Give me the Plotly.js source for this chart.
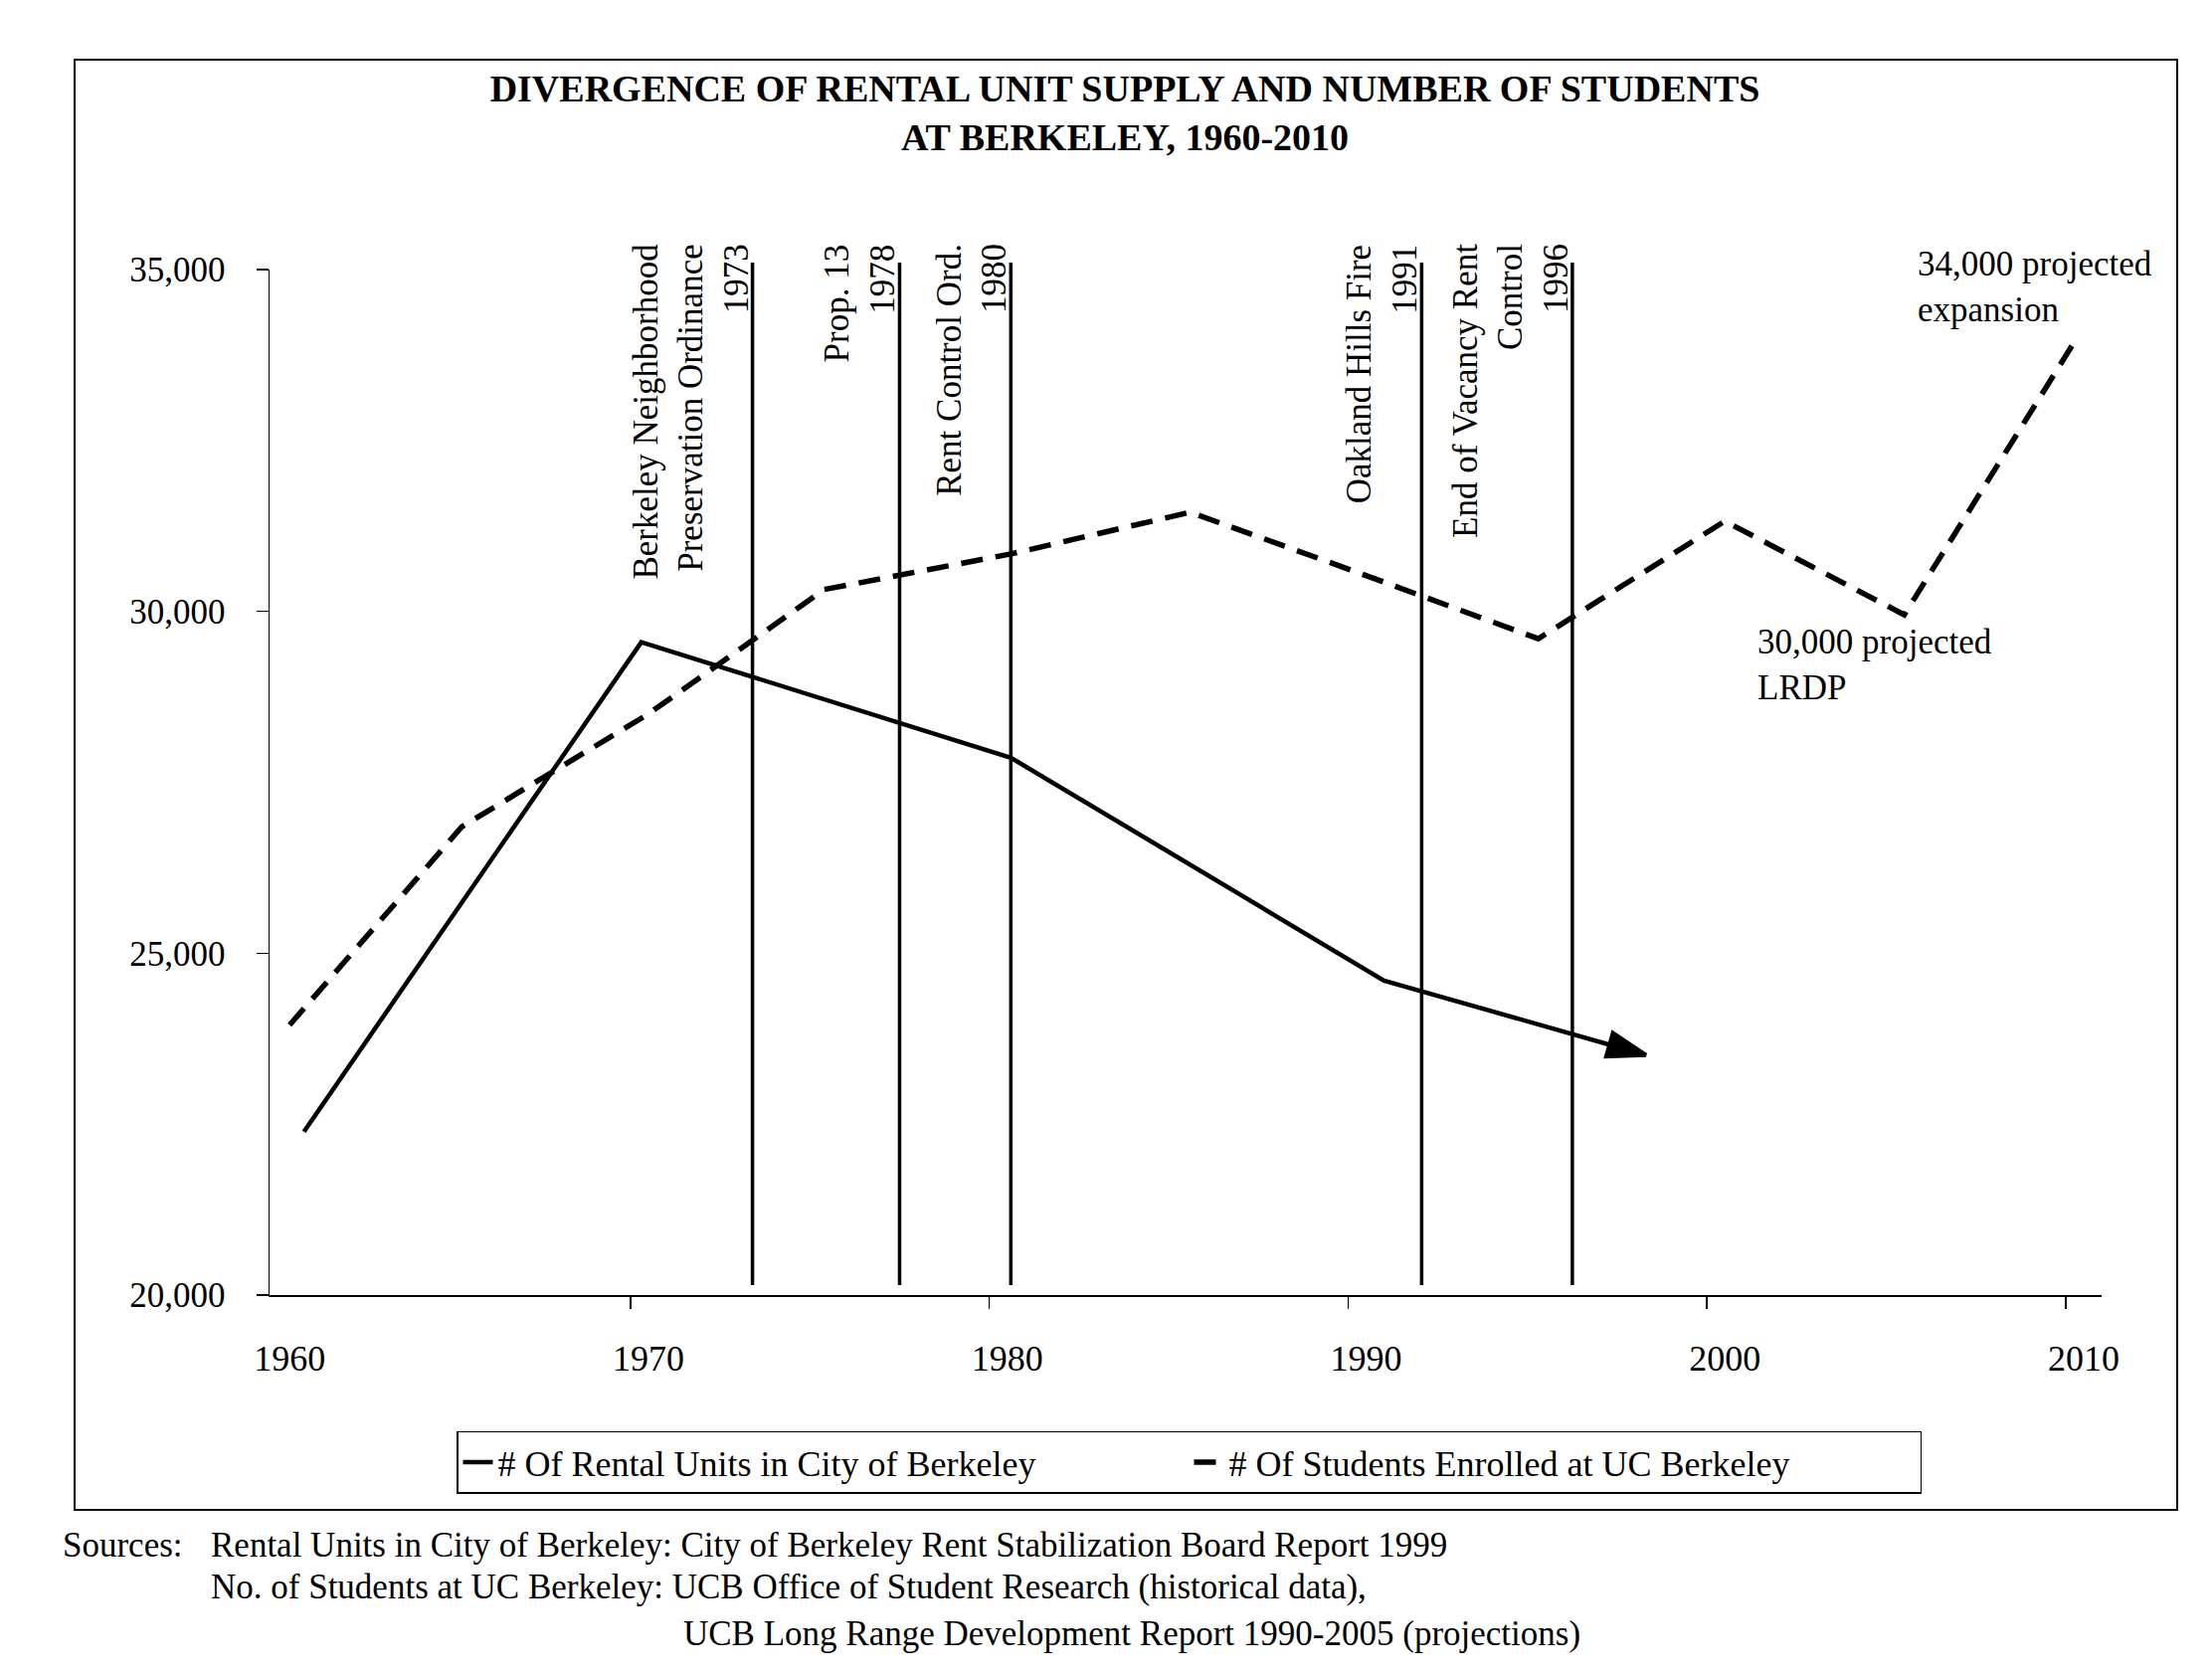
<!DOCTYPE html>
<html><head><meta charset="utf-8">
<script src="https://cdn.plot.ly/plotly-3.0.1.min.js"></script>
<style>html,body{margin:0;padding:0;background:#fff}</style>
</head><body>
<div id="chart" style="width:2224px;height:1682px"></div>
<script>
// ---- data ----
const rentalYears = [1960.4, 1969.8, 1980.1, 1990.5, 1997.8];
const rentalUnits = [22390, 29550, 27860, 24600, 23510];
const studentYears = [1960, 1964.8, 1970, 1974.9, 1980.1, 1985.1, 1989.5, 1994.8, 2000, 2005, 2009.8];
const studentCounts = [23950, 26850, 28500, 30320, 30840, 31450, 30620, 29600, 31320, 29950, 33990];
const eventYears = [1972.9, 1977.0, 1980.1, 1991.55, 1995.75];
const eventLabels = [
  "Berkeley Neighborhood<br>Preservation Ordinance<br>1973",
  "Prop. 13<br>1978",
  "Rent Control Ord.<br>1980",
  "Oakland Hills Fire<br>1991",
  "End of Vacancy Rent<br>Control<br>1996"
];
const noteTexts = ["34,000 projected<br>expansion", "30,000 projected<br>LRDP"];
const noteYears = [2005.31, 2000.86];
const noteValues = [34750, 29210];
const xTickVals = [1960, 1970, 1980, 1990, 2000, 2010];
const xTickText = ["1960", "1970", "1980", "1990", "2000", "2010"];
const yTickVals = [20000, 25000, 30000, 35000];
const yTickText = ["20,000", "25,000", "30,000", "35,000"];
const seriesNames = ["# Of Rental Units in City of Berkeley", "# Of Students Enrolled at UC Berkeley"];
const titleText = "<b>DIVERGENCE OF RENTAL UNIT SUPPLY AND NUMBER OF STUDENTS<br>AT BERKELEY, 1960-2010</b>";
const sourceLines = [
  "Sources:",
  "Rental Units in City of Berkeley: City of Berkeley Rent Stabilization Board Report 1999",
  "No. of Students at UC Berkeley: UCB Office of Student Research (historical data),",
  "UCB Long Range Development Report 1990-2005 (projections)"
];

// ---- layout helpers ----
const W = 2224, H = 1682;
const ML = 271, MR = 111, MT = 271, MB = 380;
const PW = W - ML - MR, PH = H - MT - MB;
const px = x => (x - ML) / PW;
const py = y => (H - MB - y) / PH;
const FONT = "Liberation Serif, Times New Roman, serif";

const traces = [
  {
    x: rentalYears, y: rentalUnits, name: seriesNames[0],
    mode: "lines", line: {color: "#000", width: 4.5}
  },
  {
    x: studentYears, y: studentCounts, name: seriesNames[1],
    mode: "lines", line: {color: "#000", width: 5.5, dash: "22px,13px"}
  },
  {
    x: rentalYears.slice(-2), y: rentalUnits.slice(-2), showlegend: false,
    mode: "markers", hoverinfo: "skip",
    marker: {symbol: "arrow", angleref: "previous", size: [0, 40], color: "#000",
             opacity: 1, line: {color: "#000", width: 4}}
  }
];

const shapes = eventYears.map(v => ({
  type: "line", xref: "x", yref: "paper", x0: v, x1: v, y0: py(1292), y1: py(264),
  line: {color: "#000", width: 3.5}
}));
shapes.push({
  type: "rect", xref: "paper", yref: "paper",
  x0: px(75), x1: px(2189), y0: py(1518), y1: py(60),
  line: {color: "#000", width: 2}, fillcolor: "rgba(0,0,0,0)", layer: "below"
});

const annotations = [];
eventYears.forEach((v, i) => {
  annotations.push({
    x: v, y: py(244), xref: "x", yref: "paper", text: eventLabels[i],
    textangle: -90, xanchor: "right", yanchor: "top", align: "right",
    showarrow: false, borderpad: 0, xshift: 4,
    font: {family: FONT, size: 35, color: "#000"}
  });
});
noteTexts.forEach((t, i) => {
  annotations.push({
    x: noteYears[i], y: noteValues[i], xref: "x", yref: "y", text: t,
    xanchor: "left", yanchor: "middle", align: "left", showarrow: false,
    font: {family: FONT, size: 35, color: "#000"}
  });
});
const srcPos = [[61, 1553], [210, 1553], [210, 1595], [685, 1642]];
sourceLines.forEach((t, i) => {
  annotations.push({
    x: px(srcPos[i][0]), y: py(srcPos[i][1]), xref: "paper", yref: "paper",
    text: t, xanchor: "left", yanchor: "middle", showarrow: false,
    font: {family: FONT, size: 35, color: "#000"}
  });
});

const layout = {
  width: W, height: H,
  margin: {l: ML, r: MR, t: MT, b: MB, pad: 0},
  paper_bgcolor: "#fff", plot_bgcolor: "#fff",
  font: {family: FONT, size: 35, color: "#000"},
  title: {
    text: titleText, xref: "container", yref: "container",
    x: 1131 / W, xanchor: "center", y: 1 - 102 / H, yanchor: "middle",
    font: {family: FONT, size: 38, color: "#000"}
  },
  xaxis: {
    range: [1959.44, 2010.5], showgrid: false, zeroline: false,
    showline: true, linecolor: "#000", linewidth: 2,
    tickmode: "array", tickvals: xTickVals, ticktext: xTickText,
    ticks: "", ticklabelstandoff: 31,
    minor: {tickmode: "array", tickvals: [1969.5, 1979.5, 1989.5, 1999.5, 2009.5],
            ticks: "outside", ticklen: 12, tickwidth: 1.5, tickcolor: "#000", showgrid: false},
    tickfont: {family: FONT, size: 36, color: "#000"}
  },
  yaxis: {
    range: [20000, 35000], showgrid: false, zeroline: false,
    showline: true, linecolor: "#000", linewidth: 1.5,
    tickmode: "array", tickvals: yTickVals, ticktext: yTickText,
    ticks: "outside", ticklen: 12, tickwidth: 1.5, tickcolor: "#000",
    ticklabelstandoff: 24,
    tickfont: {family: FONT, size: 35, color: "#000"}
  },
  showlegend: true,
  legend: {
    orientation: "h", x: px(459), y: py(1470), xanchor: "left", yanchor: "middle",
    xref: "paper", yref: "paper",
    bordercolor: "#000", borderwidth: 1.5, bgcolor: "#fff",
    font: {family: FONT, size: 36, color: "#000"},
    entrywidth: 690, entrywidthmode: "pixels", traceorder: "normal"
  },
  shapes: shapes,
  annotations: annotations
};

Plotly.newPlot("chart", traces, layout, {displayModeBar: false, staticPlot: true});
</script>
</body></html>
